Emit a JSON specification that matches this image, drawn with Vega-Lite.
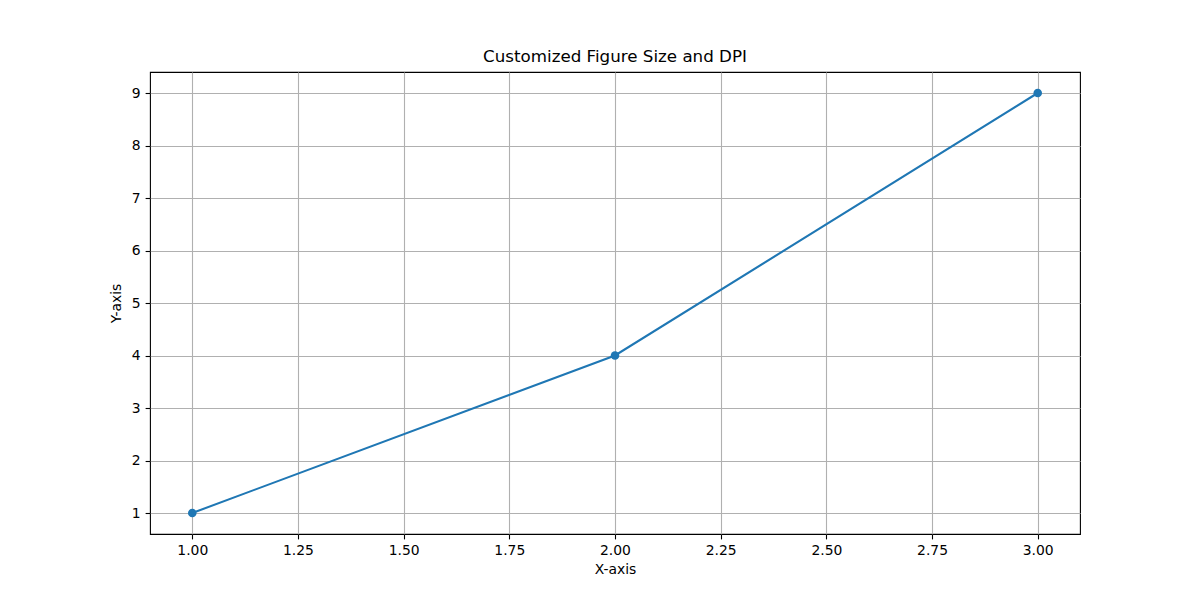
{
  "$schema": "https://vega.github.io/schema/vega-lite/v6.json",
  "width": 930,
  "height": 462,
  "autosize": {"type": "none"},
  "padding": {"left": 150, "top": 72, "right": 120, "bottom": 66},
  "background": "white",
  "title": {"text": "Customized Figure Size and DPI", "font": "DejaVu Sans", "fontSize": 16.7, "fontWeight": "normal", "color": "black", "offset": 6},
  "config": {
    "view": {"stroke": "black", "strokeWidth": 1.1},
    "axis": {
      "labelFont": "DejaVu Sans", "labelFontSize": 13.9, "labelColor": "black",
      "titleFont": "DejaVu Sans", "titleFontSize": 13.9, "titleFontWeight": "normal", "titleColor": "black",
      "tickColor": "black", "tickSize": 4.9, "tickWidth": 1.1, "labelPadding": 4.9,
      "domain": false, "grid": true, "gridColor": "#b0b0b0", "gridWidth": 1.1
    }
  },
  "data": {"values": [
    {"x": 1, "y": 1},
    {"x": 2, "y": 4},
    {"x": 3, "y": 9}
  ]},
  "encoding": {
    "x": {"field": "x", "type": "quantitative", "scale": {"domain": [0.9, 3.1], "nice": false, "zero": false},
      "axis": {"title": "X-axis", "values": [1, 1.25, 1.5, 1.75, 2, 2.25, 2.5, 2.75, 3], "format": ".2f", "titlePadding": 5}},
    "y": {"field": "y", "type": "quantitative", "scale": {"domain": [0.6, 9.4], "nice": false, "zero": false},
      "axis": {"title": "Y-axis", "values": [1, 2, 3, 4, 5, 6, 7, 8, 9], "titlePadding": 8}}
  },
  "layer": [
    {"mark": {"type": "line", "color": "#1f77b4", "strokeWidth": 2.08}},
    {"mark": {"type": "point", "filled": true, "color": "#1f77b4", "opacity": 1, "size": 74}}
  ]
}
